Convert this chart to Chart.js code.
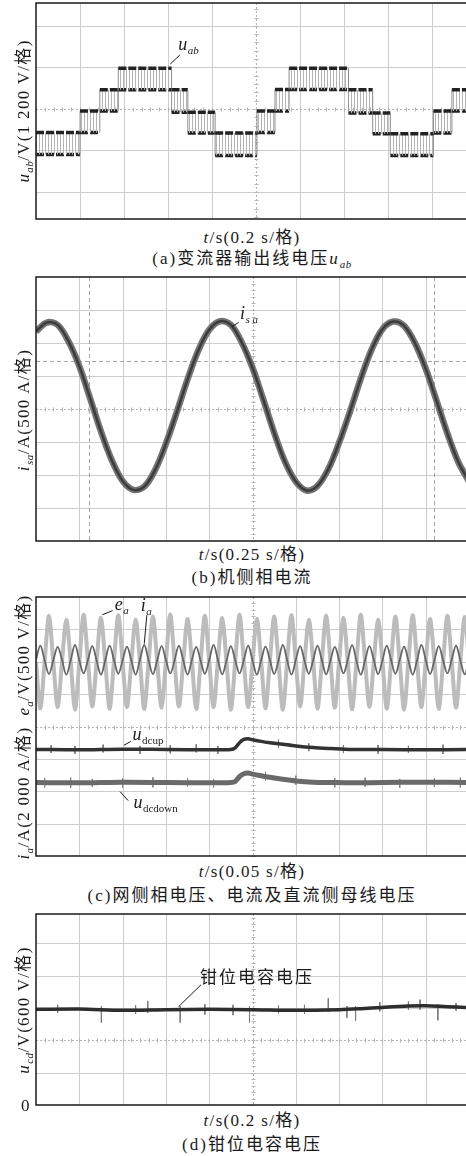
<!DOCTYPE html>
<html>
<head>
<meta charset="utf-8">
<script src="https://cdn.jsdelivr.net/npm/chart.js"></script>
<style>
html, body { margin: 0; padding: 0; background: #fff; }
#fig { position: relative; width: 466px; height: 1156px; overflow: hidden; }
canvas { position: absolute; left: 0; }
.t { position: absolute; white-space: nowrap; line-height: 1; color: #1a1a1a;
     font-family: "Liberation Serif", "Noto Sans CJK SC", serif; font-size: 17px;
     letter-spacing: 1.3px; transform: translate(-50%, -50%); }
.cap { letter-spacing: 2px; }
.yt { transform: translate(-50%, -50%) rotate(-90deg); }
.s { font-size: 11px; position: relative; top: 4px; font-style: italic; letter-spacing: 0.5px; }
</style>
</head>
<body>
<div id="fig">
  <canvas id="ca" width="466" height="222" style="top:0px"></canvas>
  <canvas id="cb" width="466" height="270" style="top:274px"></canvas>
  <canvas id="cc" width="466" height="265" style="top:594px"></canvas>
  <canvas id="cd" width="466" height="197" style="top:911px"></canvas>

  <div class="t yt" style="left:23px;top:111px"><i>u</i><span class="s">ab</span>/V(1 200 V/格)</div>
  <div class="t" style="left:252px;top:237px"><i>t</i>/s(0.2 s/格)</div>
  <div class="t cap" style="left:252px;top:258px">(a)变流器输出线电压<i>u</i><span class="s">ab</span></div>

  <div class="t yt" style="left:23px;top:410px"><i>i</i><span class="s">sa</span>/A(500 A/格)</div>
  <div class="t" style="left:252px;top:554px"><i>t</i>/s(0.25 s/格)</div>
  <div class="t cap" style="left:252px;top:577px">(b)机侧相电流</div>

  <div class="t yt" style="left:23px;top:727px"><i>i</i><span class="s">a</span>/A(2 000 A/格)&nbsp;&nbsp;<i>e</i><span class="s">a</span>/V(500 V/格)</div>
  <div class="t" style="left:252px;top:871px"><i>t</i>/s(0.05 s/格)</div>
  <div class="t cap" style="left:252px;top:895px">(c)网侧相电压、电流及直流侧母线电压</div>

  <div class="t yt" style="left:23px;top:1010px"><i>u</i><span class="s">cd</span>/V(600 V/格)</div>
  <div class="t" style="left:26px;top:1105px">0</div>
  <div class="t" style="left:252px;top:1120px"><i>t</i>/s(0.2 s/格)</div>
  <div class="t cap" style="left:252px;top:1144px">(d)钳位电容电压</div>
</div>

<script>
// all values in scope divisions (x: time div, y: amplitude div)

// (a) line voltage u_ab: PWM segments switching between two adjacent levels
const aStart = [0, 1.0, 1.45, 1.87, 3.08, 3.45, 4.07, 5.02, 5.43, 5.75, 7.1, 7.65, 8.05, 9.03, 9.45];
const aEnd   = [1.0, 1.45, 1.87, 3.08, 3.45, 4.07, 5.02, 5.43, 5.75, 7.1, 7.65, 8.05, 9.03, 9.45, 9.8];
const aLow   = [-1.1, -0.57, -0.05, 0.46, -0.08, -0.58, -1.12, -0.57, -0.05, 0.47, -0.1, -0.6, -1.12, -0.58, -0.05];
const aHigh  = [-0.57, -0.05, 0.46, 0.98, 0.46, -0.08, -0.58, -0.05, 0.47, 0.98, 0.46, -0.1, -0.6, -0.05, 0.46];

// (b) machine side phase current i_sa
const bT = [0,0.25,0.5,0.75,1,1.25,1.5,1.75,2,2.25,2.5,2.75,3,3.25,3.5,3.75,4,4.25,4.5,4.75,5,5.25,5.5,5.75,6,6.25,6.5,6.75,7,7.25,7.5,7.75,8,8.25,8.5,8.75,9,9.25,9.5,9.75,10];
const bI = [2.35,2.62,2.55,2.05,1.3,0.32,-0.68,-1.55,-2.18,-2.45,-2.35,-1.85,-1.05,-0.1,0.9,1.78,2.4,2.66,2.55,2.02,1.25,0.28,-0.72,-1.6,-2.2,-2.47,-2.33,-1.82,-1.02,-0.08,0.92,1.8,2.42,2.65,2.52,2.0,1.22,0.25,-0.74,-1.6,-2.2];

// (c) grid voltage e_a, grid current i_a, dc bus voltages
const cT = [0,0.1,0.2,0.3,0.4,0.5,0.6,0.7,0.8,0.9,1.0,1.1,1.2,1.3,1.4,1.5,1.6,1.7,1.8,1.9,2.0,2.1,2.2,2.3,2.4,2.5,2.6,2.7,2.8,2.9,3.0,3.1,3.2,3.3,3.4,3.5,3.6,3.7,3.8,3.9,4.0,4.1,4.2,4.3,4.4,4.5,4.6,4.7,4.8,4.9,5.0,5.1,5.2,5.3,5.4,5.5,5.6,5.7,5.8,5.9,6.0,6.1,6.2,6.3,6.4,6.5,6.6,6.7,6.8,6.9,7.0,7.1,7.2,7.3,7.4,7.5,7.6,7.7,7.8,7.9,8.0,8.1,8.2,8.3,8.4,8.5,8.6,8.7,8.8,8.9,9.0,9.1,9.2,9.3,9.4,9.5,9.6,9.7,9.8,9.9,10.0];
const eA = [2.0,0.56,2.02,3.42, 1.98,0.6,2.0,3.3, 2.02,0.52,1.98,3.45, 2.0,0.62,2.02,3.36, 1.98,0.55,2.0,3.44,
            2.0,0.6,1.98,3.3, 2.02,0.54,2.0,3.4, 1.98,0.58,2.02,3.46, 2.0,0.62,2.0,3.32, 2.02,0.53,1.98,3.42,
            2.0,0.6,2.02,3.35, 1.98,0.52,2.0,3.45, 2.0,0.6,1.98,3.33, 2.02,0.56,2.0,3.4, 1.98,0.52,2.02,3.44,
            2.0,0.62,2.0,3.3, 2.02,0.55,1.98,3.42, 2.0,0.58,2.02,3.36, 1.98,0.53,2.0,3.45, 2.0,0.61,1.98,3.3,
            2.02,0.55,2.0,3.4, 1.98,0.52,2.02,3.44, 2.0,0.6,2.0,3.32, 2.02,0.54,1.98,3.42, 2.0,0.58,2.02,3.38, 2.0];
const iA = [2.06,2.5,2.04,1.62, 2.05,2.46,2.06,1.6, 2.04,2.52,2.05,1.64, 2.06,2.48,2.04,1.6, 2.05,2.5,2.06,1.63,
            2.04,2.47,2.05,1.6, 2.06,2.52,2.04,1.62, 2.05,2.48,2.06,1.64, 2.04,2.5,2.05,1.6, 2.06,2.46,2.04,1.63,
            2.05,2.52,2.06,1.61, 2.04,2.48,2.05,1.64, 2.06,2.5,2.04,1.6, 2.05,2.47,2.06,1.62, 2.04,2.52,2.05,1.6,
            2.06,2.48,2.04,1.63, 2.05,2.5,2.06,1.61, 2.04,2.46,2.05,1.64, 2.06,2.52,2.04,1.6, 2.05,2.48,2.06,1.62,
            2.04,2.5,2.05,1.63, 2.06,2.47,2.04,1.6, 2.05,2.52,2.06,1.62, 2.04,2.48,2.05,1.64, 2.06,2.5,2.04,1.61, 2.05];
const uT     = [0,1,2,3,4,4.5,4.6,4.7,4.8,4.9,5.0,5.2,5.4,5.7,6.0,6.4,6.8,7.3,8,9,10];
const uUp    = [-0.71,-0.72,-0.7,-0.71,-0.72,-0.71,-0.66,-0.5,-0.4,-0.38,-0.41,-0.46,-0.5,-0.55,-0.6,-0.65,-0.68,-0.71,-0.71,-0.72,-0.71];
const uDown  = [-1.73,-1.74,-1.72,-1.73,-1.74,-1.73,-1.7,-1.55,-1.46,-1.44,-1.47,-1.52,-1.57,-1.63,-1.68,-1.72,-1.73,-1.74,-1.73,-1.72,-1.73];
// noise spikes on the dc bus traces
const upSpkT   = [0.35, 0.9, 1.55, 2.4, 3.1, 3.7, 4.2, 5.6, 6.3, 7.1, 7.9, 8.6, 9.4];
const upSpkHi  = [-0.58, -0.6, -0.56, -0.6, -0.58, -0.55, -0.6, -0.4, -0.52, -0.58, -0.57, -0.6, -0.56];
const upSpkLo  = [-0.82, -0.84, -0.8, -0.85, -0.83, -0.8, -0.84, -0.66, -0.76, -0.82, -0.84, -0.81, -0.85];
const dnSpkT   = [0.2, 0.8, 1.3, 2.0, 2.7, 3.5, 4.1, 5.3, 6.0, 6.9, 7.6, 8.4, 9.2, 9.8];
const dnSpkHi  = [-1.6, -1.58, -1.62, -1.6, -1.57, -1.6, -1.62, -1.4, -1.52, -1.6, -1.58, -1.62, -1.6, -1.58];
const dnSpkLo  = [-1.88, -1.9, -1.86, -1.9, -1.88, -1.85, -1.9, -1.68, -1.8, -1.88, -1.86, -1.9, -1.87, -1.88];

// (d) clamp capacitor voltage u_cd
const dT = [0,1,2,3,4,5,6,7,7.5,8,8.6,9,9.5,9.93];
const dU = [2.96,2.97,2.93,2.95,2.96,2.95,2.93,2.95,2.98,3.02,3.06,3.07,3.04,3.02];
const dSpkT  = [0.5, 1.51, 2.3, 2.58, 3.33, 3.9, 4.55, 4.93, 5.6, 6.2, 6.75, 7.18, 7.38, 7.94, 8.6, 8.87, 9.28, 9.7];
const dSpkHi = [3.1, 3.05, 3.08, 3.22, 3.05, 3.12, 3.1, 3.05, 3.08, 3.1, 3.3, 3.06, 3.05, 3.18, 3.2, 3.26, 3.12, 3.15];
const dSpkLo = [2.85, 2.55, 2.82, 2.85, 2.55, 2.8, 2.78, 2.55, 2.84, 2.82, 2.88, 2.7, 2.6, 2.9, 2.95, 2.95, 2.62, 2.92];

const pts = (xs, ys) => xs.map((x, i) => ({x: x, y: ys[i]}));
const spikes = (ts, hi, lo) => ts.flatMap((t, i) => [{x: t, y: hi[i]}, {x: t, y: lo[i]}, {x: t, y: null}]);

// scope furniture per panel: centre cross, cursors, labels with leader lines
const scopeCfg = {
  ca: { cy: 0, labels: [
    {x: 3.23, y: 1.42, main: 'u', sub: 'ab', line: [3.27, 1.30, 3.05, 1.08]} ] },
  cb: { cy: 0, curX: [1.22, 9.19], curY: [1.45], labels: [
    {x: 4.71, y: 2.72, main: 'i', sub: 's a', line: [4.68, 2.62, 4.52, 2.5]} ] },
  cc: { cy: 0, labels: [
    {x: 1.82, y: 3.6, main: 'e', sub: 'a', line: [1.77, 3.58, 1.53, 3.45]},
    {x: 2.42, y: 3.57, main: 'i', sub: 'a', line: [2.56, 3.44, 2.5, 2.56]},
    {x: 2.23, y: -0.42, main: 'u', sub: 'dcup', up: true, line: [2.19, -0.46, 2.03, -0.58]},
    {x: 2.25, y: -2.52, main: 'u', sub: 'dcdown', up: true, line: [2.13, -2.29, 1.94, -2.01]} ] },
  cd: { cy: 2, labels: [
    {x: 3.79, y: 3.77, main: '钳位电容电压', cjk: true, line: [3.81, 3.72, 3.29, 3.04]} ] }
};

const scopePlugin = {
  id: 'scope',
  beforeDatasetsDraw(chart) {
    const cfg = scopeCfg[chart.canvas.id];
    const ctx = chart.ctx, a = chart.chartArea, xs = chart.scales.x, ys = chart.scales.y;
    ctx.save();
    ctx.lineWidth = 1;
    ctx.strokeStyle = '#cdcdcd';
    for (let v = 1; v < xs.max; v++) {
      if (v === 5) continue;
      const p = Math.round(xs.getPixelForValue(v)) + 0.5;
      ctx.beginPath(); ctx.moveTo(p, a.top); ctx.lineTo(p, a.bottom); ctx.stroke();
    }
    for (let v = Math.ceil(ys.min); v < ys.max; v++) {
      if (v <= ys.min + 0.01 || v === cfg.cy) continue;
      const p = Math.round(ys.getPixelForValue(v)) + 0.5;
      ctx.beginPath(); ctx.moveTo(a.left, p); ctx.lineTo(a.right, p); ctx.stroke();
    }
    // centre cross, dotted with small ticks
    const cx = Math.round(xs.getPixelForValue(5)) + 0.5;
    const cy = Math.round(ys.getPixelForValue(cfg.cy)) + 0.5;
    ctx.strokeStyle = '#b5b5b5';
    ctx.setLineDash([2, 2]);
    ctx.beginPath(); ctx.moveTo(cx, a.top); ctx.lineTo(cx, a.bottom); ctx.stroke();
    ctx.beginPath(); ctx.moveTo(a.left, cy); ctx.lineTo(a.right, cy); ctx.stroke();
    ctx.setLineDash([]);
    ctx.beginPath();
    for (let k = 1; k * 0.2 < xs.max; k++) {
      const p = Math.round(xs.getPixelForValue(k * 0.2)) + 0.5;
      ctx.moveTo(p, cy - 2); ctx.lineTo(p, cy + 2);
    }
    for (let k = Math.ceil(ys.min / 0.2); k * 0.2 < ys.max; k++) {
      const p = Math.round(ys.getPixelForValue(k * 0.2)) + 0.5;
      ctx.moveTo(cx - 2, p); ctx.lineTo(cx + 2, p);
    }
    ctx.stroke();
    // cursors
    ctx.strokeStyle = '#a5a5a5';
    ctx.setLineDash([4, 3]);
    (cfg.curX || []).forEach(v => {
      const p = Math.round(xs.getPixelForValue(v)) + 0.5;
      ctx.beginPath(); ctx.moveTo(p, a.top); ctx.lineTo(p, a.bottom); ctx.stroke();
    });
    (cfg.curY || []).forEach(v => {
      const p = Math.round(ys.getPixelForValue(v)) + 0.5;
      ctx.beginPath(); ctx.moveTo(a.left, p); ctx.lineTo(a.right, p); ctx.stroke();
    });
    ctx.restore();
  },
  afterDatasetsDraw(chart) {
    const cfg = scopeCfg[chart.canvas.id];
    const ctx = chart.ctx, a = chart.chartArea, xs = chart.scales.x, ys = chart.scales.y;
    ctx.save();
    ctx.strokeStyle = '#1a1a1a';
    ctx.lineWidth = 1.5;
    ctx.beginPath();
    ctx.moveTo(a.right + 2, a.top); ctx.lineTo(a.left, a.top);
    ctx.lineTo(a.left, a.bottom); ctx.lineTo(a.right + 2, a.bottom);
    ctx.stroke();
    ctx.fillStyle = '#1a1a1a';
    ctx.lineWidth = 1;
    cfg.labels.forEach(l => {
      const px = xs.getPixelForValue(l.x), py = ys.getPixelForValue(l.y);
      if (l.cjk) {
        ctx.font = '17px "Noto Sans CJK SC"';
        ctx.letterSpacing = '2px';
        ctx.fillText(l.main, px, py);
        ctx.letterSpacing = '0px';
      } else {
        ctx.font = 'italic 18px "Liberation Serif"';
        ctx.fillText(l.main, px, py);
        const w = ctx.measureText(l.main).width;
        ctx.font = (l.up ? '' : 'italic ') + '11px "Liberation Serif"';
        ctx.fillText(l.sub, px + w + 0.5, py + 4);
      }
      const [x1, y1, x2, y2] = l.line;
      ctx.beginPath();
      ctx.moveTo(xs.getPixelForValue(x1), ys.getPixelForValue(y1));
      ctx.lineTo(xs.getPixelForValue(x2), ys.getPixelForValue(y2));
      ctx.stroke();
    });
    ctx.restore();
  }
};
Chart.register(scopePlugin);

function scopeOptions(xMax, yMin, yMax) {
  return {
    responsive: false,
    animation: false,
    events: [],
    layout: { padding: { left: 36, right: 0, top: 3, bottom: 3 } },
    scales: {
      x: { type: 'linear', display: false, min: 0, max: xMax },
      y: { type: 'linear', display: false, min: yMin, max: yMax }
    },
    plugins: { legend: { display: false }, tooltip: { enabled: false } },
    elements: { point: { radius: 0 }, line: { borderCapStyle: 'butt', borderJoinStyle: 'round' } }
  };
}

// (a)
const hiPts = [], loPts = [];
aStart.forEach((s, i) => {
  hiPts.push({x: s, y: aHigh[i]}, {x: aEnd[i], y: aHigh[i]});
  loPts.push({x: s, y: aLow[i]}, {x: aEnd[i], y: aLow[i]});
});
const stripeTile = document.createElement('canvas');
stripeTile.width = 3; stripeTile.height = 4;
const st = stripeTile.getContext('2d');
st.fillStyle = '#b4b4b4';
st.fillRect(0, 0, 1, 4);
const stripes = document.getElementById('ca').getContext('2d').createPattern(stripeTile, 'repeat');
const vertical = c => c.p0.parsed.x === c.p1.parsed.x;
const levelSegment = {
  borderColor: c => vertical(c) ? '#8c8c8c' : undefined,
  borderWidth: c => vertical(c) ? 1 : undefined,
  borderDash: c => vertical(c) ? [] : undefined
};

new Chart(document.getElementById('ca'), {
  type: 'line',
  data: {
    datasets: [
      { data: hiPts, borderColor: '#222', borderWidth: 3.5, borderDash: [8, 2],
        fill: '+1', backgroundColor: stripes, segment: levelSegment },
      { data: loPts, borderColor: '#222', borderWidth: 3.5, borderDash: [8, 2],
        fill: false, segment: levelSegment }
    ]
  },
  options: scopeOptions(9.77, -2.65, 2.55)
});

// (b) first dataset is drawn on top
new Chart(document.getElementById('cb'), {
  type: 'line',
  data: {
    datasets: [
      { data: pts(bT, bI), borderColor: '#3c3c3c', borderWidth: 2.5, tension: 0.35, fill: false },
      { data: pts(bT, bI), borderColor: '#747474', borderWidth: 6.5, tension: 0.35, fill: false }
    ]
  },
  options: scopeOptions(9.93, -4, 4)
});

// (c)
new Chart(document.getElementById('cc'), {
  type: 'line',
  data: {
    datasets: [
      { data: pts(uT, uUp), borderColor: '#333', borderWidth: 3.5, tension: 0.3, fill: false },
      { data: spikes(upSpkT, upSpkHi, upSpkLo), borderColor: '#777', borderWidth: 1, fill: false },
      { data: pts(uT, uDown), borderColor: '#6a6a6a', borderWidth: 5, tension: 0.3, fill: false },
      { data: spikes(dnSpkT, dnSpkHi, dnSpkLo), borderColor: '#888', borderWidth: 1, fill: false },
      { data: pts(cT, iA), borderColor: '#666', borderWidth: 1.8, tension: 0.35, fill: false },
      { data: pts(cT, eA), borderColor: '#bcbcbc', borderWidth: 4, tension: 0.3, fill: false }
    ]
  },
  options: scopeOptions(9.93, -4, 4)
});

// (d)
new Chart(document.getElementById('cd'), {
  type: 'line',
  data: {
    datasets: [
      { data: pts(dT, dU), borderColor: '#2e2e2e', borderWidth: 3.5, tension: 0.3, fill: false },
      { data: spikes(dSpkT, dSpkHi, dSpkLo), borderColor: '#7a7a7a', borderWidth: 1, fill: false }
    ]
  },
  options: scopeOptions(9.93, 0, 5.91)
});
</script>
</body>
</html>
